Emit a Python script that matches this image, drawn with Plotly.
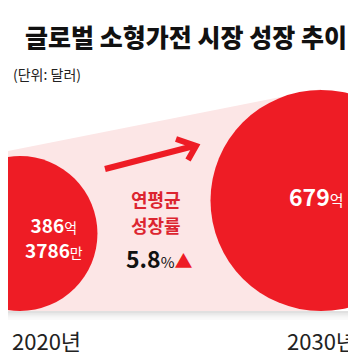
import plotly.graph_objects as go

# ---- data ----
years = ["2020년", "2030년"]
values = [386.3786, 679.0]          # 억 달러
value_labels = ["<b>386</b>억<br><b>3786</b>만", "<b>679</b>억"]
cagr = 5.8
title_text = "글로벌 소형가전 시장 성장 추이"
unit_text = "(단위: 달러)"
cagr_label = ["연평균", "성장률"]

W, H = 356, 360
RED = "#ee1c25"
PINK = "#fce6e6"
FONT = "Noto Sans CJK KR"

def px(x):
    return x / W

# circle sizes from values
D_MAX = 221
diam = [D_MAX * (v / max(values)) ** 0.63 for v in values]
BASE = 303
cy = [BASE - d / 2 for d in diam]

fig = go.Figure()
fig.add_trace(go.Scatter(
    x=years, y=cy, mode="markers",
    marker=dict(size=diam, color=RED, line=dict(width=0), opacity=1),
    hoverinfo="skip", showlegend=False,
))

shapes = []
# pink band
shapes.append(dict(type="path", xref="paper", yref="y", layer="below",
                   path=f"M {px(-5)},{144} L {px(313)},{81} L {px(313)},{BASE} L {px(-5)},{BASE} Z",
                   fillcolor=PINK, line=dict(width=0)))
# shadow under band
for i, op in enumerate([0.16, 0.10, 0.06, 0.03]):
    shapes.append(dict(type="rect", xref="paper", yref="y", layer="below",
                       x0=0, x1=1, y0=BASE + i * 2.2, y1=BASE + (i + 1) * 2.2,
                       fillcolor=f"rgba(60,60,60,{op})", line=dict(width=0)))
# arrow
shapes.append(dict(type="line", xref="paper", yref="y", x0=px(97), y0=161, x1=px(186), y1=138,
                   line=dict(color=RED, width=6)))
shapes.append(dict(type="path", xref="paper", yref="y",
                   path=f"M {px(168)},{131} L {px(188)},{138} L {px(180)},{152}",
                   line=dict(color=RED, width=6)))

ann = []
ann.append(dict(text=title_text, x=px(178), y=28, xref="paper", yref="y", xanchor="center",
                yanchor="middle", showarrow=False,
                font=dict(family=FONT, size=25, color="#111", weight=900)))
ann.append(dict(text=unit_text, x=px(3), y=66, xref="paper", yref="y", xanchor="left",
                yanchor="middle", showarrow=False,
                font=dict(family=FONT, size=14, color="#222")))
ann.append(dict(text=cagr_label[0], x=px(148), y=191, xref="paper", yref="y", xanchor="center",
                yanchor="middle", showarrow=False,
                font=dict(family=FONT, size=18, color="#dc2530", weight=700)))
ann.append(dict(text=cagr_label[1], x=px(148), y=217, xref="paper", yref="y", xanchor="center",
                yanchor="middle", showarrow=False,
                font=dict(family=FONT, size=18, color="#dc2530", weight=700)))
ann.append(dict(text=f"<b>{cagr}</b><span style='font-size:15px'>%</span><span style='color:{RED};font-size:18px'>▲</span>",
                x=px(116), y=250, xref="paper", yref="y", xanchor="left",
                yanchor="middle", showarrow=False,
                font=dict(family=FONT, size=23, color="#111")))
# value labels
ann.append(dict(text=value_labels[0].replace("억", "<span style='font-size:14px'>억</span>").replace("만", "<span style='font-size:14px'>만</span>"),
                x=px(46), y=229, xref="paper", yref="y", xanchor="center", yanchor="middle",
                align="center", showarrow=False, font=dict(family=FONT, size=19, color="white")))
ann.append(dict(text=value_labels[1].replace("억", "<span style='font-size:15px'>억</span>"),
                x=px(338), y=188, xref="paper", yref="y", xanchor="right", yanchor="middle",
                showarrow=False, font=dict(family=FONT, size=23, color="white")))
# year labels
ann.append(dict(text=years[0], x=px(2), y=332, xref="paper", yref="y", xanchor="left",
                yanchor="middle", showarrow=False,
                font=dict(family="Liberation Sans Narrow, " + FONT, size=22, color="#222")))
ann.append(dict(text=years[1], x=px(350), y=332, xref="paper", yref="y", xanchor="right",
                yanchor="middle", showarrow=False,
                font=dict(family="Liberation Sans Narrow, " + FONT, size=22, color="#222")))

fig.update_layout(
    width=W, height=H, margin=dict(l=0, r=0, t=0, b=0),
    paper_bgcolor="white", plot_bgcolor="rgba(0,0,0,0)",
    xaxis=dict(type="category", range=[-12 / 301, 1 + 43 / 301], visible=False, fixedrange=True),
    yaxis=dict(range=[H, 0], visible=False, fixedrange=True),
    shapes=shapes, annotations=ann,
)
fig.write_html("out.html")
